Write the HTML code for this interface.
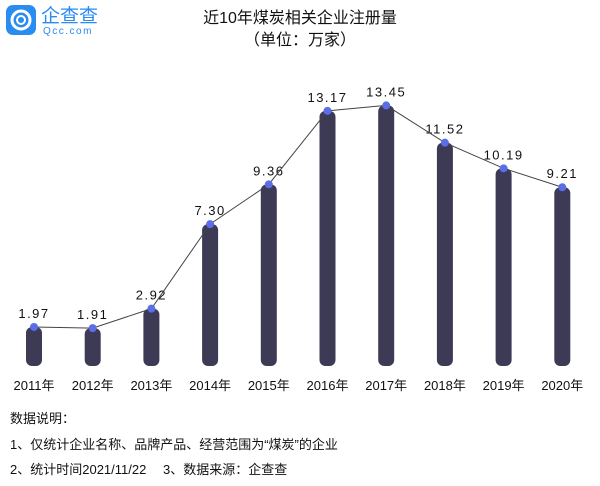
<!DOCTYPE html>
<html><head><meta charset="utf-8"><style>
body{margin:0;background:#fff;width:600px;height:481px;overflow:hidden;font-family:"Liberation Sans","Noto Sans CJK SC",sans-serif}
</style></head><body>
<svg width="600" height="481" xmlns="http://www.w3.org/2000/svg" font-family="Liberation Sans, Noto Sans CJK SC, sans-serif">
<rect x="6" y="5" width="30" height="30" rx="7" fill="#2a8cf0"/>
<circle cx="21" cy="20" r="9" fill="none" stroke="#fff" stroke-width="3"/>
<circle cx="21" cy="20" r="4" fill="none" stroke="#fff" stroke-width="2"/>
<text x="41" y="22" font-size="19" fill="#2a8cf0">企查查</text>
<text x="43" y="34" font-size="10" fill="#2a8cf0" letter-spacing="1.5">Qcc.com</text>
<text x="300" y="23" font-size="16" text-anchor="middle" fill="#111">近10年煤炭相关企业注册量</text>
<text x="300" y="45" font-size="16" text-anchor="middle" fill="#111">（单位：万家）</text>
<g id="c"></g>
<text x="10" y="423" font-size="13" fill="#111">数据说明：</text>
<text x="10" y="449" font-size="13" fill="#111">1、仅统计企业名称、品牌产品、经营范围为“煤炭”的企业</text>
<text x="10" y="474" font-size="13" fill="#111">2、统计时间2021/11/22</text>
<text x="163" y="474" font-size="13" fill="#111">3、数据来源：企查查</text>
</svg>
<script>
const v=[1.97,1.91,2.92,7.30,9.36,13.17,13.45,11.52,10.19,9.21];
const g=document.getElementById('c');let h='',pts=[];
v.forEach((d,i)=>{const x=34+i*58.7,y=365-d*19.3;pts.push(x+','+y);
h+=`<rect x="${x-8}" y="${y}" width="16" height="${366-y}" rx="6" fill="#3c3a55"/>`;
h+=`<text x="${x}" y="${y-9}" font-size="13" text-anchor="middle" fill="#111" letter-spacing="1.5">${d.toFixed(2)}</text>`;
h+=`<text x="${x}" y="390" font-size="13" text-anchor="middle" fill="#111">${2011+i}年</text>`;});
h+=`<polyline points="${pts.join(' ')}" fill="none" stroke="#444" stroke-width="1"/>`;
pts.forEach(p=>{const[a,b]=p.split(',');h+=`<circle cx="${a}" cy="${b}" r="4" fill="#5b6ee8"/>`});
g.innerHTML=h;
</script>
</body></html>
